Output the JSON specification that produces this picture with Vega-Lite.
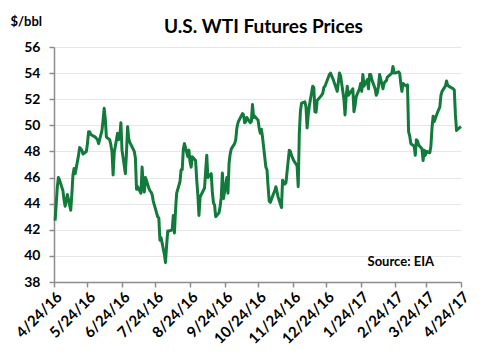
{
  "$schema": "https://vega.github.io/schema/vega-lite/v6.json",
  "width": 407,
  "height": 235,
  "autosize": {"type": "none"},
  "padding": {"left": 54, "top": 47, "right": 27, "bottom": 76},
  "background": "white",
  "title": {"text": "U.S. WTI Futures Prices", "font": "Lato", "fontSize": 19, "fontWeight": "bold", "color": "#000000", "anchor": "middle", "dx": 6, "dy": 51, "offset": 14, "baseline": "alphabetic"},
  "config": {"view": {"stroke": null}, "font": "Lato"},
  "encoding": {
    "x": {
      "field": "date", "type": "temporal",
      "scale": {"type": "utc", "domain": [{"year": 2016, "month": 4, "date": 24, "utc": true}, {"year": 2017, "month": 4, "date": 24, "utc": true}]},
      "axis": {
        "title": null,
        "values": [
          {"year": 2016, "month": 4, "date": 24, "utc": true},
          {"year": 2016, "month": 5, "date": 24, "utc": true},
          {"year": 2016, "month": 6, "date": 24, "utc": true},
          {"year": 2016, "month": 7, "date": 24, "utc": true},
          {"year": 2016, "month": 8, "date": 24, "utc": true},
          {"year": 2016, "month": 9, "date": 24, "utc": true},
          {"year": 2016, "month": 10, "date": 24, "utc": true},
          {"year": 2016, "month": 11, "date": 24, "utc": true},
          {"year": 2016, "month": 12, "date": 24, "utc": true},
          {"year": 2017, "month": 1, "date": 24, "utc": true},
          {"year": 2017, "month": 2, "date": 24, "utc": true},
          {"year": 2017, "month": 3, "date": 24, "utc": true},
          {"year": 2017, "month": 4, "date": 24, "utc": true}
        ],
        "format": "%-m/%-d/%y",
        "labelAngle": -45, "labelAlign": "right", "labelBaseline": "top",
        "labelFont": "Lato", "labelFontSize": 15, "labelFontWeight": "bold", "labelColor": "#000000",
        "labelPadding": 2, "labelOverlap": false, "labelFlush": false, "labelBound": false,
        "grid": false, "domainColor": "#8c8c8c", "domainWidth": 1.5, "tickColor": "#8c8c8c", "tickWidth": 1.5, "tickSize": 5
      }
    },
    "y": {
      "field": "price", "type": "quantitative",
      "scale": {"domain": [38, 56], "nice": false, "zero": false},
      "axis": {
        "title": "$/bbl", "titleAngle": 0, "titleAlign": "left", "titleBaseline": "alphabetic", "titleX": -44, "titleY": -22,
        "titleFont": "Lato", "titleFontSize": 13, "titleFontWeight": "bold", "titleColor": "#000000",
        "values": [38, 40, 42, 44, 46, 48, 50, 52, 54, 56],
        "labelOverlap": false,
        "labelFont": "Lato", "labelFontSize": 14, "labelFontWeight": "bold", "labelColor": "#000000", "labelPadding": 9,
        "grid": true, "gridColor": "#e6e6e6", "gridWidth": 1,
        "domainColor": "#8c8c8c", "domainWidth": 1.5, "tickColor": "#8c8c8c", "tickWidth": 1.5, "tickSize": 5
      }
    }
  },
  "layer": [
    {
      "data": {"values": [
        {"date":"2016-04-25","price":42.7},{"date":"2016-04-26","price":44.0},{"date":"2016-04-27","price":45.3},{"date":"2016-04-28","price":46.0},{"date":"2016-04-29","price":45.8},
        {"date":"2016-05-02","price":45.0},{"date":"2016-05-03","price":44.3},{"date":"2016-05-04","price":43.8},{"date":"2016-05-05","price":44.2},{"date":"2016-05-06","price":44.7},
        {"date":"2016-05-09","price":43.5},{"date":"2016-05-10","price":44.7},{"date":"2016-05-11","price":46.2},{"date":"2016-05-12","price":46.7},{"date":"2016-05-13","price":46.3},
        {"date":"2016-05-16","price":47.7},{"date":"2016-05-17","price":48.3},{"date":"2016-05-18","price":48.2},{"date":"2016-05-19","price":48.1},{"date":"2016-05-20","price":47.8},
        {"date":"2016-05-23","price":48.0},{"date":"2016-05-24","price":48.6},{"date":"2016-05-25","price":49.5},{"date":"2016-05-26","price":49.5},{"date":"2016-05-27","price":49.3},
        {"date":"2016-05-31","price":49.1},{"date":"2016-06-01","price":49.0},{"date":"2016-06-02","price":48.9},{"date":"2016-06-03","price":48.6},
        {"date":"2016-06-06","price":49.6},{"date":"2016-06-07","price":50.4},{"date":"2016-06-08","price":51.3},{"date":"2016-06-09","price":50.5},{"date":"2016-06-10","price":49.1},
        {"date":"2016-06-13","price":48.9},{"date":"2016-06-14","price":48.5},{"date":"2016-06-15","price":48.0},{"date":"2016-06-16","price":46.2},{"date":"2016-06-17","price":47.9},
        {"date":"2016-06-20","price":49.4},{"date":"2016-06-21","price":48.9},{"date":"2016-06-22","price":49.1},{"date":"2016-06-23","price":50.2},{"date":"2016-06-24","price":48.1},
        {"date":"2016-06-27","price":46.3},{"date":"2016-06-28","price":47.9},{"date":"2016-06-29","price":49.9},{"date":"2016-06-30","price":49.0},{"date":"2016-07-01","price":48.7},
        {"date":"2016-07-05","price":48.0},{"date":"2016-07-06","price":47.5},{"date":"2016-07-07","price":45.1},{"date":"2016-07-08","price":45.3},
        {"date":"2016-07-11","price":44.8},{"date":"2016-07-12","price":46.8},{"date":"2016-07-13","price":45.5},{"date":"2016-07-14","price":44.9},{"date":"2016-07-15","price":46.0},
        {"date":"2016-07-18","price":45.2},{"date":"2016-07-19","price":45.0},{"date":"2016-07-20","price":44.9},{"date":"2016-07-21","price":44.7},{"date":"2016-07-22","price":44.2},
        {"date":"2016-07-25","price":43.3},{"date":"2016-07-26","price":43.0},{"date":"2016-07-27","price":42.9},{"date":"2016-07-28","price":41.2},{"date":"2016-07-29","price":41.4},
        {"date":"2016-08-01","price":40.1},{"date":"2016-08-02","price":39.5},{"date":"2016-08-03","price":40.8},{"date":"2016-08-04","price":41.9},{"date":"2016-08-05","price":41.9},
        {"date":"2016-08-08","price":42.0},{"date":"2016-08-09","price":43.1},{"date":"2016-08-10","price":41.75},{"date":"2016-08-11","price":43.5},{"date":"2016-08-12","price":44.8},
        {"date":"2016-08-15","price":45.7},{"date":"2016-08-16","price":46.6},{"date":"2016-08-17","price":46.6},{"date":"2016-08-18","price":48.2},{"date":"2016-08-19","price":48.6},
        {"date":"2016-08-22","price":47.6},{"date":"2016-08-23","price":48.1},{"date":"2016-08-24","price":47.2},{"date":"2016-08-25","price":46.8},{"date":"2016-08-26","price":47.6},
        {"date":"2016-08-29","price":47.3},{"date":"2016-08-30","price":45.8},{"date":"2016-08-31","price":44.7},{"date":"2016-09-01","price":43.1},{"date":"2016-09-02","price":44.5},
        {"date":"2016-09-06","price":45.2},{"date":"2016-09-07","price":46.5},{"date":"2016-09-08","price":47.7},{"date":"2016-09-09","price":46.0},
        {"date":"2016-09-12","price":46.3},{"date":"2016-09-13","price":44.9},{"date":"2016-09-14","price":44.05},{"date":"2016-09-15","price":43.9},{"date":"2016-09-16","price":43.0},
        {"date":"2016-09-19","price":43.3},{"date":"2016-09-20","price":43.8},{"date":"2016-09-21","price":44.5},{"date":"2016-09-22","price":46.35},{"date":"2016-09-23","price":44.4},
        {"date":"2016-09-26","price":46.0},{"date":"2016-09-27","price":44.8},{"date":"2016-09-28","price":47.1},{"date":"2016-09-29","price":47.8},{"date":"2016-09-30","price":48.2},
        {"date":"2016-10-03","price":48.6},{"date":"2016-10-04","price":48.9},{"date":"2016-10-05","price":49.8},{"date":"2016-10-06","price":50.2},{"date":"2016-10-07","price":50.4},
        {"date":"2016-10-10","price":50.9},{"date":"2016-10-11","price":50.8},{"date":"2016-10-12","price":50.2},{"date":"2016-10-13","price":50.3},{"date":"2016-10-14","price":50.6},
        {"date":"2016-10-17","price":50.2},{"date":"2016-10-18","price":50.3},{"date":"2016-10-19","price":51.6},{"date":"2016-10-20","price":50.6},{"date":"2016-10-21","price":50.7},
        {"date":"2016-10-24","price":50.4},{"date":"2016-10-25","price":49.8},{"date":"2016-10-26","price":49.4},{"date":"2016-10-27","price":49.7},{"date":"2016-10-28","price":49.1},
        {"date":"2016-10-31","price":46.8},{"date":"2016-11-01","price":46.6},{"date":"2016-11-02","price":45.3},{"date":"2016-11-03","price":44.2},{"date":"2016-11-04","price":44.1},
        {"date":"2016-11-07","price":44.8},{"date":"2016-11-08","price":45.0},{"date":"2016-11-09","price":45.3},{"date":"2016-11-10","price":44.9},{"date":"2016-11-11","price":44.5},
        {"date":"2016-11-14","price":43.7},{"date":"2016-11-15","price":45.8},{"date":"2016-11-16","price":45.6},{"date":"2016-11-17","price":45.5},{"date":"2016-11-18","price":45.6},
        {"date":"2016-11-21","price":48.1},{"date":"2016-11-22","price":48.0},{"date":"2016-11-23","price":47.7},{"date":"2016-11-25","price":47.3},
        {"date":"2016-11-28","price":46.9},{"date":"2016-11-29","price":45.3},{"date":"2016-11-30","price":49.4},{"date":"2016-12-01","price":51.1},{"date":"2016-12-02","price":51.7},
        {"date":"2016-12-05","price":51.8},{"date":"2016-12-06","price":51.4},{"date":"2016-12-07","price":49.8},{"date":"2016-12-08","price":50.8},{"date":"2016-12-09","price":51.5},
        {"date":"2016-12-12","price":53.0},{"date":"2016-12-13","price":52.9},{"date":"2016-12-14","price":51.05},{"date":"2016-12-15","price":51.0},{"date":"2016-12-16","price":51.9},
        {"date":"2016-12-19","price":52.2},{"date":"2016-12-20","price":52.3},{"date":"2016-12-21","price":52.45},{"date":"2016-12-22","price":52.9},{"date":"2016-12-23","price":53.0},
        {"date":"2016-12-27","price":53.9},{"date":"2016-12-28","price":54.0},{"date":"2016-12-29","price":53.8},{"date":"2016-12-30","price":53.6},
        {"date":"2017-01-03","price":52.6},{"date":"2017-01-04","price":53.3},{"date":"2017-01-05","price":54.0},{"date":"2017-01-06","price":53.8},
        {"date":"2017-01-09","price":52.0},{"date":"2017-01-10","price":50.8},{"date":"2017-01-11","price":52.2},{"date":"2017-01-12","price":53.0},{"date":"2017-01-13","price":52.3},
        {"date":"2017-01-17","price":52.8},{"date":"2017-01-18","price":51.05},{"date":"2017-01-19","price":51.5},{"date":"2017-01-20","price":52.2},
        {"date":"2017-01-23","price":52.8},{"date":"2017-01-24","price":53.2},{"date":"2017-01-25","price":52.6},{"date":"2017-01-26","price":53.9},{"date":"2017-01-27","price":53.0},
        {"date":"2017-01-30","price":53.5},{"date":"2017-01-31","price":52.8},{"date":"2017-02-01","price":53.9},{"date":"2017-02-02","price":53.9},{"date":"2017-02-03","price":53.5},
        {"date":"2017-02-06","price":52.8},{"date":"2017-02-07","price":52.3},{"date":"2017-02-08","price":52.5},{"date":"2017-02-09","price":53.0},{"date":"2017-02-10","price":53.9},
        {"date":"2017-02-13","price":52.8},{"date":"2017-02-14","price":53.2},{"date":"2017-02-15","price":53.35},{"date":"2017-02-16","price":53.4},{"date":"2017-02-17","price":53.7},
        {"date":"2017-02-21","price":54.0},{"date":"2017-02-22","price":54.5},{"date":"2017-02-23","price":54.0},{"date":"2017-02-24","price":54.0},
        {"date":"2017-02-27","price":54.1},{"date":"2017-02-28","price":54.0},{"date":"2017-03-01","price":53.2},{"date":"2017-03-02","price":52.6},{"date":"2017-03-03","price":53.2},
        {"date":"2017-03-06","price":53.0},{"date":"2017-03-07","price":53.1},{"date":"2017-03-08","price":49.5},{"date":"2017-03-09","price":49.2},{"date":"2017-03-10","price":48.6},
        {"date":"2017-03-13","price":48.4},{"date":"2017-03-14","price":47.7},{"date":"2017-03-15","price":48.9},{"date":"2017-03-16","price":48.8},{"date":"2017-03-17","price":48.5},
        {"date":"2017-03-20","price":48.2},{"date":"2017-03-21","price":47.3},{"date":"2017-03-22","price":48.1},{"date":"2017-03-23","price":47.7},{"date":"2017-03-24","price":48.0},
        {"date":"2017-03-27","price":47.9},{"date":"2017-03-28","price":48.4},{"date":"2017-03-29","price":49.8},{"date":"2017-03-30","price":50.7},{"date":"2017-03-31","price":50.3},
        {"date":"2017-04-03","price":51.0},{"date":"2017-04-04","price":51.2},{"date":"2017-04-05","price":51.4},{"date":"2017-04-06","price":52.3},{"date":"2017-04-07","price":52.6},
        {"date":"2017-04-10","price":53.0},{"date":"2017-04-11","price":53.4},{"date":"2017-04-12","price":53.1},{"date":"2017-04-13","price":53.0},
        {"date":"2017-04-17","price":52.8},{"date":"2017-04-18","price":52.7},{"date":"2017-04-19","price":50.8},{"date":"2017-04-20","price":49.6},{"date":"2017-04-21","price":49.7},
        {"date":"2017-04-24","price":49.9}
      ]},
      "mark": {"type": "line", "color": "#127a3a", "strokeWidth": 3, "strokeJoin": "round"}
    },
    {
      "data": {"values": [{"date": "2017-03-01", "price": 39.5, "label": "Source: EIA"}]},
      "mark": {"type": "text", "font": "Lato", "fontSize": 13, "fontWeight": "bold", "color": "#000000", "align": "center", "baseline": "middle"},
      "encoding": {
        "text": {"field": "label"}
      }
    }
  ]
}
